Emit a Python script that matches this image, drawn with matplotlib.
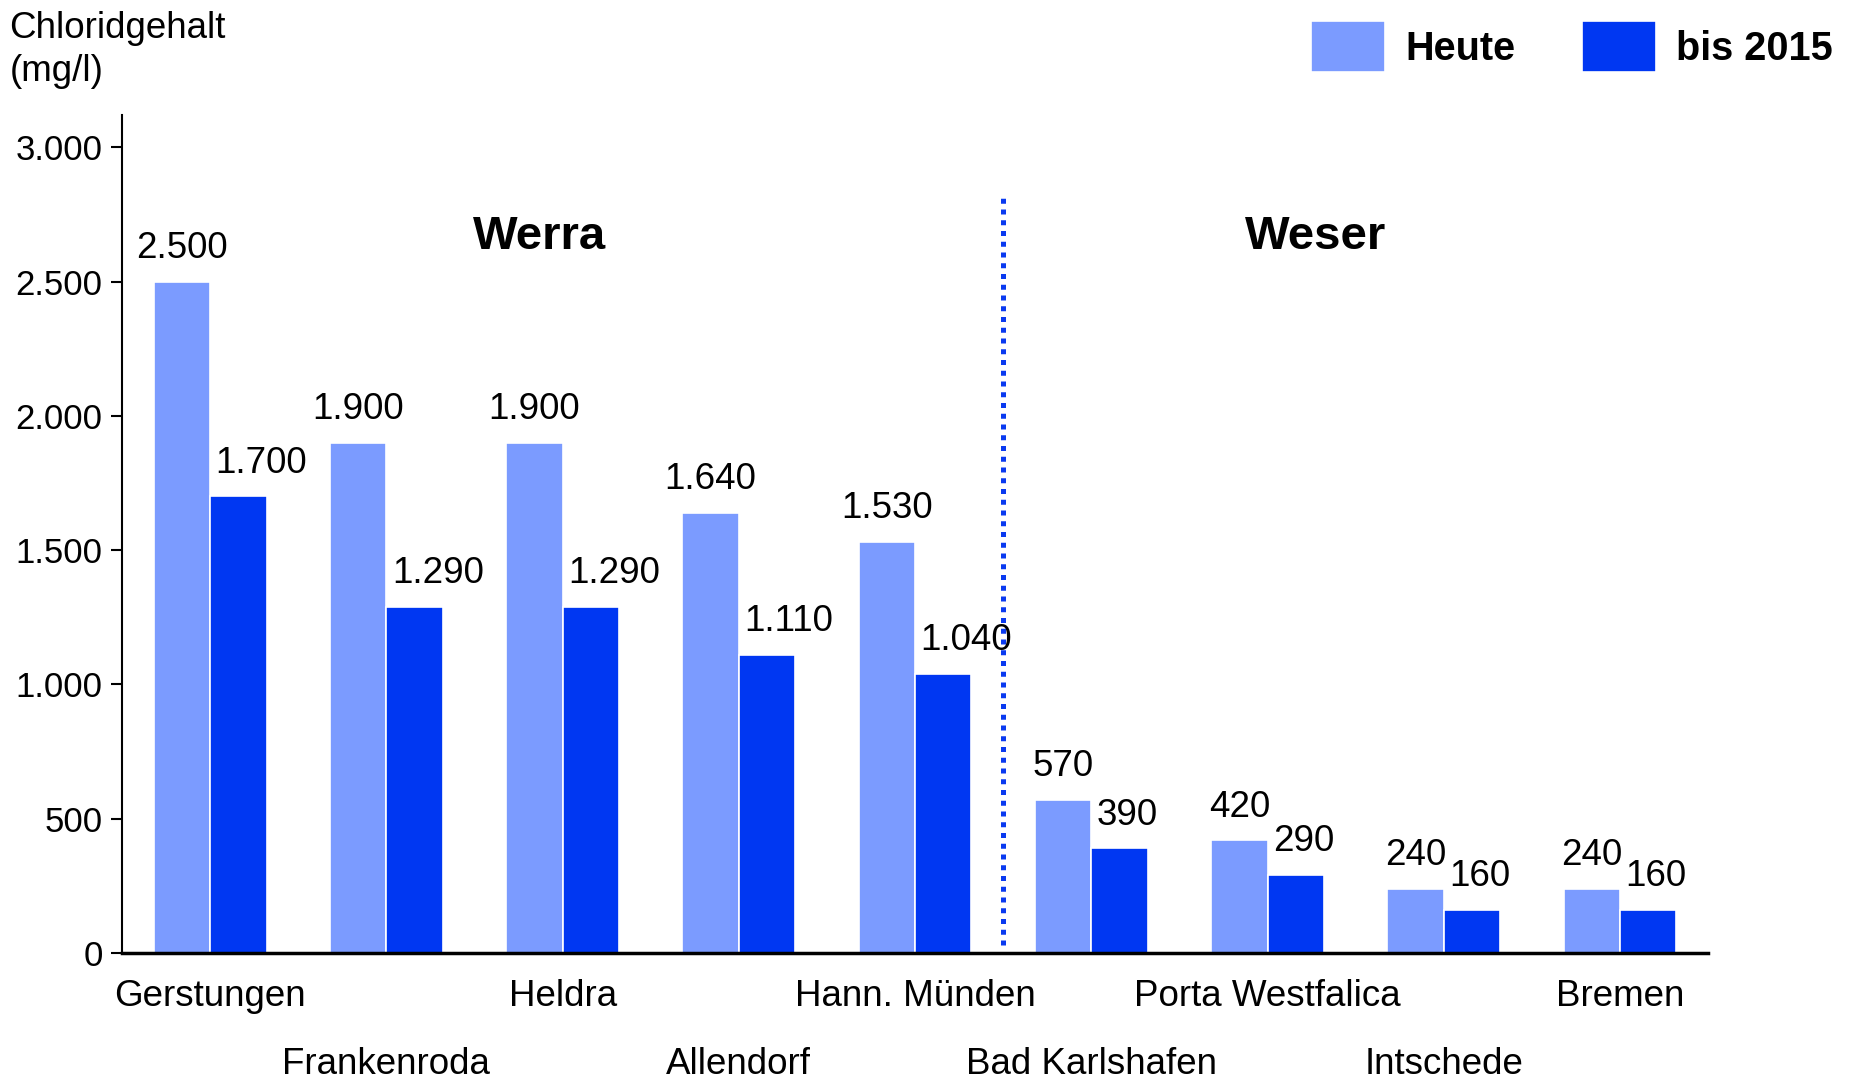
import numpy as np
import matplotlib as mpl
import matplotlib.pyplot as plt
import matplotlib.ticker as ticker

# Data
stations = ["Gerstungen", "Frankenroda", "Heldra", "Allendorf", "Hann. Münden",
            "Bad Karlshafen", "Porta Westfalica", "Intschede", "Bremen"]
heute = [2500, 1900, 1900, 1640, 1530, 570, 420, 240, 240]
bis_2015 = [1700, 1290, 1290, 1110, 1040, 390, 290, 160, 160]
series_names = ["Heute", "bis 2015"]
y_ticks = [0, 500, 1000, 1500, 2000, 2500, 3000]
river_names = ["Werra", "Weser"]

LIGHT = "#7b9bff"
DARK = "#0037f2"


def set_rc_params():
    params = {
        "font.family": ["Liberation Sans", "DejaVu Sans"],
        "font.size": 26,
        "axes.linewidth": 1.5,
        "xtick.labelsize": 26,
        "ytick.labelsize": 25,
    }
    for p in params:
        mpl.rcParams[p] = params[p]


def de_format(x, pos):
    return f"{x:,.0f}".replace(",", ".")


def main():
    set_rc_params()
    fig = plt.figure(figsize=(18.54, 10.88), dpi=100)
    ax = fig.add_axes([0.0658, 0.1241, 0.9213 - 0.0658, 0.8943 - 0.1241])

    x = np.arange(len(stations))
    w = 0.32
    b1 = ax.bar(x - w / 2, heute, width=w, color=LIGHT, edgecolor="white",
                linewidth=1.2, label=series_names[0])
    b2 = ax.bar(x + w / 2, bis_2015, width=w, color=DARK, edgecolor="white",
                linewidth=1.2, label=series_names[1])

    # value labels
    for xi, v in zip(x, heute):
        ax.annotate(de_format(v, None), (xi - w / 2, v), xytext=(0, 17),
                    textcoords="offset points", ha="center", va="baseline",
                    fontsize=26.5)
    for xi, v in zip(x, bis_2015):
        ax.annotate(de_format(v, None), (xi, v), xytext=(4, 17),
                    textcoords="offset points", ha="left", va="baseline",
                    fontsize=26.5)

    # separator between Werra and Weser
    ax.vlines(4.5, 30, 2820, colors="#0a3af0", linestyles=(0, (1, 1.15)),
              linewidth=3.6)
    ax.text(1.87, 2620, river_names[0], ha="center", va="baseline",
            fontsize=34, fontweight="bold")
    ax.text(6.27, 2620, river_names[1], ha="center", va="baseline",
            fontsize=34, fontweight="bold")

    ax.set_xlim(-0.5, 8.5)
    ax.set_ylim(0, 3120)
    ax.set_yticks(y_ticks)
    ax.yaxis.set_major_formatter(ticker.FuncFormatter(de_format))
    ax.tick_params(axis="y", direction="out", length=8, width=1.5, pad=6)

    # alternating station labels: even ones on first row, odd ones below
    ax.set_xticks(x[::2])
    ax.set_xticklabels(stations[::2])
    ax.set_xticks(x[1::2], minor=True)
    ax.set_xticklabels(stations[1::2], minor=True)
    ax.tick_params(axis="x", which="major", length=0, pad=19, labelsize=26.5)
    ax.tick_params(axis="x", which="minor", length=0, pad=68, labelsize=26.5)

    for s in ["top", "right"]:
        ax.spines[s].set_visible(False)
    ax.spines["left"].set_linewidth(1.5)
    ax.spines["bottom"].set_linewidth(2.5)

    fig.text(9.5 / 1854, 1 - 11 / 1088, "Chloridgehalt\n(mg/l)", ha="left",
             va="top", fontsize=26.5, linespacing=1.31)

    fig.legend(handles=[b1, b2], loc="upper right",
               bbox_to_anchor=(1833 / 1854, 1 - 21 / 1088), ncol=2,
               frameon=False, borderaxespad=0, borderpad=0,
               handlelength=1.87, handleheight=1.62, handletextpad=0.5,
               columnspacing=1.7, prop={"weight": "bold", "size": 28.5})

    fig.savefig("out.png", dpi=100)
    plt.close(fig)


if __name__ == "__main__":
    main()
